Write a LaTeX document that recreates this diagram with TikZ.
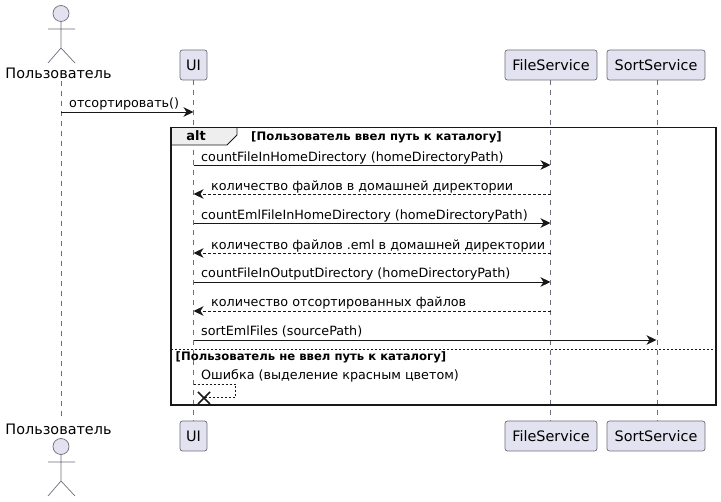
\documentclass[tikz,border=0pt]{standalone}
\usepackage{fontspec}
\setmainfont{DejaVu Sans}
\usetikzlibrary{arrows.meta}
\definecolor{partfill}{HTML}{E2E2F0}
\definecolor{partline}{HTML}{6E6E7A}
\definecolor{inkc}{HTML}{181818}
\definecolor{tabfill}{HTML}{EEEEEE}
\tikzset{
  x=1pt,y=-1pt,
  part/.style={draw=partline,fill=partfill,rounded corners=2.5pt,line width=0.7pt,minimum height=30pt,inner sep=0pt,font=\fontsize{14.4}{16}\selectfont,text=black},
  lifeline/.style={draw=partline,line width=0.7pt,dash pattern=on 5pt off 5pt},
  actorline/.style={draw=partline,line width=0.7pt},
  actorname/.style={inner sep=0pt,font=\fontsize{14.4}{16}\selectfont,text=black,minimum height=15pt},
  msg/.style={draw=inkc,line width=0.9pt,-{Stealth[length=10pt,width=9.5pt,inset=3pt]}},
  ret/.style={msg,dash pattern=on 2.5pt off 2.5pt},
  lbl/.style={anchor=base west,inner sep=0pt,font=\fontsize{12.75}{15}\selectfont,text=black},
  guard/.style={anchor=base west,inner sep=0pt,font=\bfseries\fontsize{11.65}{13}\selectfont,text=black},
}
\begin{document}
\begin{tikzpicture}
\useasboundingbox (0,0) rectangle (721,502);
% participants
\node[actorname] (usr) at (58.5,73) {Пользователь};
\node[actorname] (usrb) at (58.5,429) {Пользователь};
\coordinate (usrline) at (61,81);
\coordinate (usrlineb) at (61,421);
\node[part,minimum width=27pt] (ui) at (193.5,65) {UI};
\node[part,minimum width=27pt] (uib) at (193.5,436) {UI};
\node[part,minimum width=92pt] (fs) at (551,65) {FileService};
\node[part,minimum width=92pt] (fsb) at (551,436) {FileService};
\node[part,minimum width=98pt] (ss) at (656,65) {SortService};
\node[part,minimum width=98pt] (ssb) at (656,436) {SortService};
% lifelines
\draw[lifeline] (usrline) -- (usrlineb);
\draw[lifeline] (ui.south) -- (uib.north);
\draw[lifeline] (fs.south) ++(-0.5,0) coordinate (fsl) -- (fsl |- fsb.north);
\draw[lifeline] (ss.south) ++(1,0) coordinate (ssl) -- (ssl |- ssb.north);
% actors
\foreach \n/\y in {t/0,b/433}{
  \begin{scope}[yshift=-\y pt]
    \node[circle,draw=partline,fill=partfill,line width=0.7pt,minimum size=16pt,inner sep=0pt] (head\n) at (61,13.5) {};
    \coordinate (hip\n) at (61,48);
    \coordinate (larm\n) at (48,29);
    \coordinate (rarm\n) at (75,29);
    \coordinate (lleg\n) at (48,63);
    \coordinate (rleg\n) at (75,63);
    \draw[actorline] (head\n.south) -- (hip\n) (larm\n) -- (rarm\n) (lleg\n) -- (hip\n) -- (rleg\n);
  \end{scope}
}
% frame
\coordinate (fa) at (171,127.5);
\coordinate (fb) at (716,405);
\draw[fill=tabfill,draw=none] (171,127.5) -- (237,127.5) -- (237,135) -- (227,145) -- (171,145) -- cycle;
\draw[draw=inkc,line width=0.9pt] (237,127.5) -- (237,135) -- (227,145) -- (171,145);
\draw[draw=inkc,line width=1.6pt] (fa) rectangle (fb);
\node[anchor=base,inner sep=0pt,font=\bfseries\fontsize{13}{15}\selectfont] (alt) at (196,140.5) {alt};
\node[guard] (g1) at (251,140.5) {[Пользователь ввел путь к каталогу]};
\coordinate (sepa) at (171,349);
\coordinate (sepb) at (716,349);
\draw[draw=inkc,line width=0.7pt,dash pattern=on 2pt off 2pt] (sepa) -- (sepb);
\node[guard] (g2) at (175.5,360.5) {[Пользователь не ввел путь к каталогу]};
% messages
\foreach \n/\y in {a/165,b/194,c/223,d/253,e/282,f/311,g/340,h/112}{
  \coordinate (u\n) at (193.5,\y);
  \coordinate (v\n) at (550.5,\y);
}
\coordinate (uu) at (61,112);
\coordinate (sg) at (656.5,340);
\draw[msg] (uu) -- (uh);
\node[lbl] at (69,107.5) {отсортировать()};
\draw[msg] (ua) -- (va);
\node[lbl] at (201,161.5) {countFileInHomeDirectory (homeDirectoryPath)};
\draw[ret] (vb) -- (ub);
\node[lbl] at (211,190.5) {количество файлов в домашней директории};
\draw[msg] (uc) -- (vc);
\node[lbl] at (201,219.5) {countEmlFileInHomeDirectory (homeDirectoryPath)};
\draw[ret] (vd) -- (ud);
\node[lbl] at (211,249.5) {количество файлов .eml в домашней директории};
\draw[msg] (ue) -- (ve);
\node[lbl] at (201,277.5) {countFileInOutputDirectory (homeDirectoryPath)};
\draw[ret] (vf) -- (uf);
\node[lbl] at (211,306.5) {количество отсортированных файлов};
\draw[msg] (ug) -- (sg);
\node[lbl] at (201,335.5) {sortEmlFiles (sourcePath)};
\node[lbl] at (201,379.5) {Ошибка (выделение красным цветом)};
% self message with destroy
\coordinate (sa) at (193.5,384.5);
\coordinate (sb) at (235.5,384.5);
\coordinate (sc) at (235.5,397.5);
\coordinate (sd) at (204,397.5);
\draw[draw=inkc,line width=0.7pt,dash pattern=on 2pt off 2pt] (sa) -- (sb) -- (sc) -- (sd);
\coordinate (xa) at (198,392);
\coordinate (xb) at (210,404);
\coordinate (xc) at (198,404);
\coordinate (xd) at (210,392);
\draw[draw=inkc,line width=1.5pt] (xa) -- (xb) (xc) -- (xd);
\end{tikzpicture}
\end{document}
